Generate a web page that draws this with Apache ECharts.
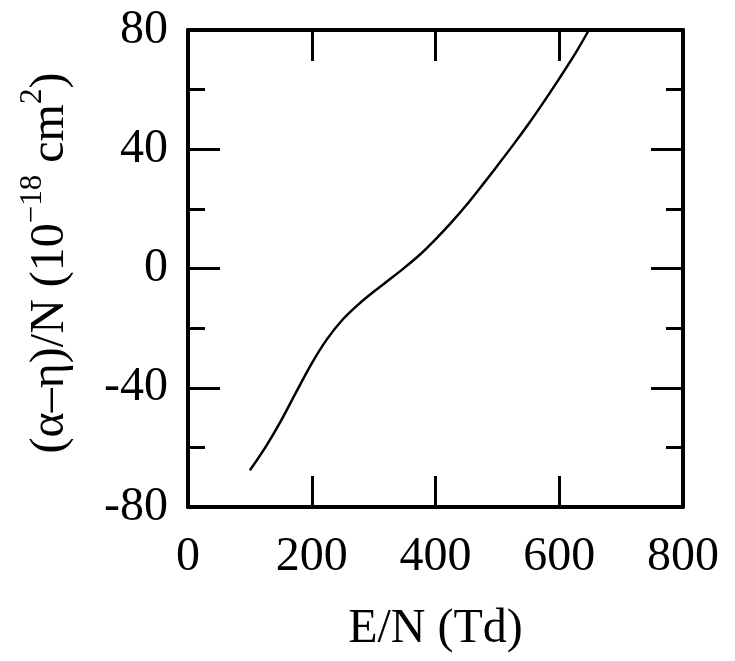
<!DOCTYPE html>
<html>
<head>
<meta charset="utf-8">
<script src="https://cdn.jsdelivr.net/npm/echarts@6/dist/echarts.min.js"></script>
<style>html,body{margin:0;padding:0;background:#fff;}#c{width:735px;height:661px;}</style>
</head>
<body>
<div id="c"></div>
<script>
var xValues = [100, 125, 150, 175, 200, 225, 250, 275, 300, 325, 350, 375, 400, 425, 450, 475, 500, 525, 550, 575, 600, 625, 648];
var yValues = [-67.7, -60.0, -51.2, -41.4, -31.8, -23.6, -17.1, -12.1, -7.8, -3.8, 0.3, 4.7, 9.8, 15.3, 21.3, 27.8, 34.5, 41.3, 48.4, 55.9, 63.7, 71.8, 80.0];
var xTicks = [0, 200, 400, 600, 800];
var yTicks = [-80, -40, 0, 40, 80];

var FONT = 'Liberation Serif';
var FS = 48;
var pts = xValues.map(function (x, i) { return [x, yValues[i]]; });

var axisLine = { show: true, onZero: false, lineStyle: { color: '#000', width: 4 } };
var chart = echarts.init(document.getElementById('c'), null, { renderer: 'canvas' });
chart.setOption({
  animation: false,
  backgroundColor: '#fff',
  grid: { left: 188, right: 52, top: 30, bottom: 154, containLabel: false },
  xAxis: [{
    type: 'value', position: 'bottom',
    min: xTicks[0], max: xTicks[xTicks.length - 1], interval: 200,
    axisLine: axisLine,
    axisTick: { show: true, inside: true, length: 31, lineStyle: { color: '#000', width: 3 } },
    splitLine: { show: false },
    axisLabel: { show: true, margin: 26, color: '#000', fontFamily: FONT, fontSize: FS,
      formatter: function (v) { return String(v); } },
    name: 'E/N (Td)', nameLocation: 'middle', nameGap: 98,
    nameTextStyle: { color: '#000', fontFamily: FONT, fontSize: FS }
  }, {
    type: 'value', position: 'top',
    min: xTicks[0], max: xTicks[xTicks.length - 1], interval: 200,
    axisLine: axisLine,
    axisTick: { show: true, inside: true, length: 31, lineStyle: { color: '#000', width: 3 } },
    splitLine: { show: false }, axisLabel: { show: false }
  }],
  yAxis: [{
    type: 'value', position: 'left',
    min: yTicks[0], max: yTicks[yTicks.length - 1], interval: 40,
    axisLine: axisLine,
    axisTick: { show: true, inside: true, length: 32, lineStyle: { color: '#000', width: 3 } },
    minorTick: { show: true, splitNumber: 2, length: 17, lineStyle: { color: '#000', width: 3 } },
    splitLine: { show: false }, minorSplitLine: { show: false },
    axisLabel: { show: true, margin: 20, color: '#000', fontFamily: FONT, fontSize: FS,
      formatter: function (v) { return String(v); } }
  }, {
    type: 'value', position: 'right',
    min: yTicks[0], max: yTicks[yTicks.length - 1], interval: 40,
    axisLine: axisLine,
    axisTick: { show: true, inside: true, length: 32, lineStyle: { color: '#000', width: 3 } },
    minorTick: { show: true, splitNumber: 2, length: 17, lineStyle: { color: '#000', width: 3 } },
    splitLine: { show: false }, minorSplitLine: { show: false },
    axisLabel: { show: false }
  }],
  graphic: [{
    type: 'text',
    x: 48, y: 263,
    rotation: Math.PI / 2,
    style: {
      text: '{m|(α–η)/N (10}{s|−18}{m| cm}{s|2}{m|)}',
      align: 'center', verticalAlign: 'middle',
      fill: '#000',
      rich: {
        m: { fontFamily: FONT, fontSize: FS, lineHeight: 52, fill: '#000', verticalAlign: 'bottom' },
        s: { fontFamily: FONT, fontSize: 31, lineHeight: 32, fill: '#000', verticalAlign: 'bottom', padding: [0, 0, 26, 0] }
      }
    }
  }],
  series: [{
    type: 'line', xAxisIndex: 0, yAxisIndex: 0,
    data: pts, smooth: 0.3, showSymbol: false, symbol: 'none', clip: true,
    lineStyle: { color: '#000', width: 2.5 }
  }]
});
</script>
</body>
</html>
